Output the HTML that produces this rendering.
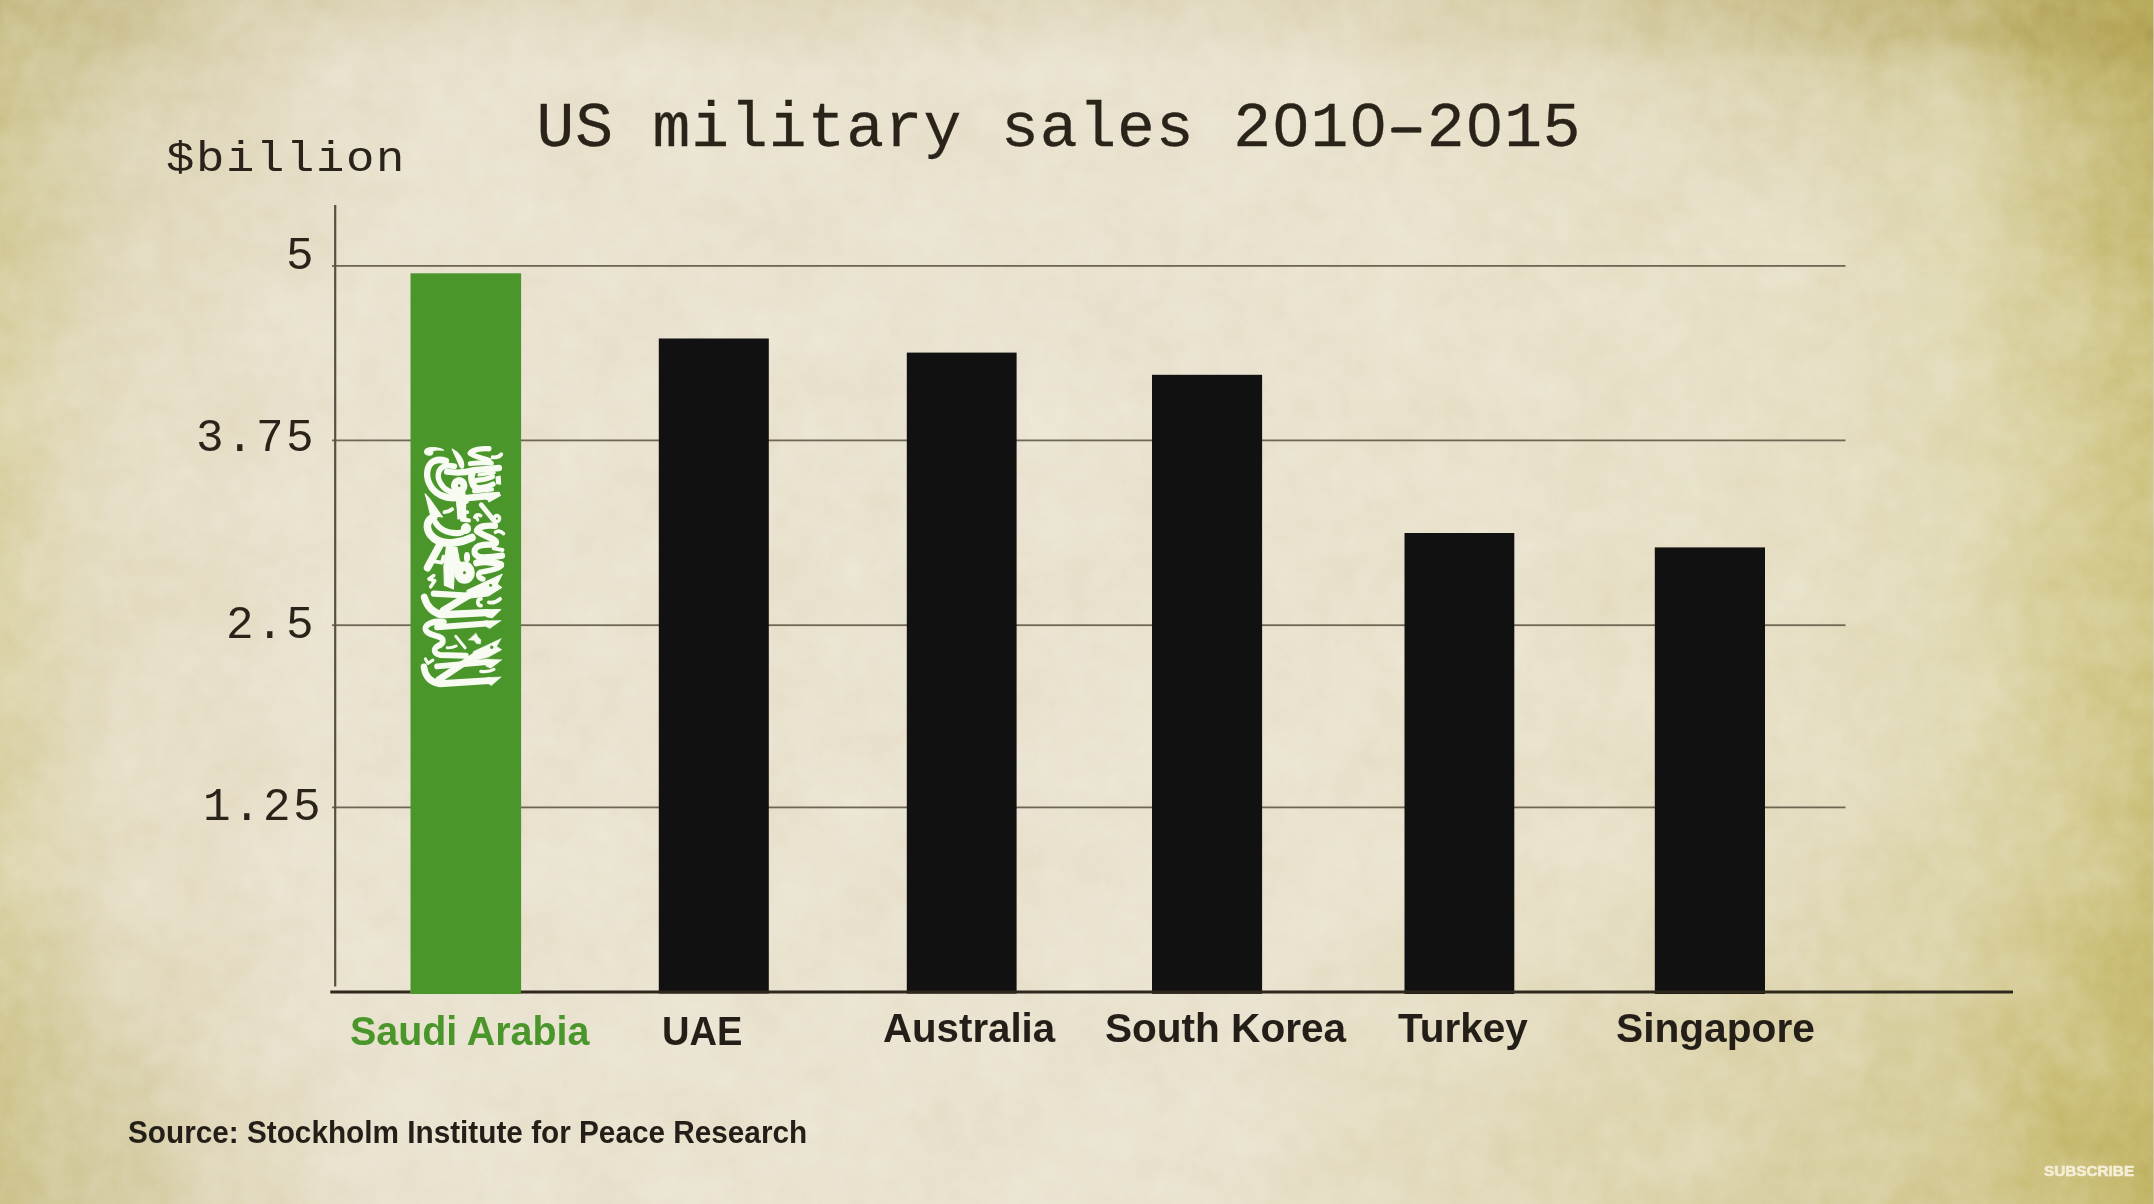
<!DOCTYPE html>
<html lang="en">
<head>
<meta charset="utf-8">
<title>US military sales 2010-2015</title>
<style>
  html, body { margin: 0; padding: 0; }
  body {
    width: 2154px; height: 1204px; overflow: hidden; position: relative;
    background-color: #ebe3cf;
    font-family: "Liberation Sans", sans-serif;
  }
  #bg {
    position: absolute; left: 0; top: 0; width: 2154px; height: 1204px;
    background:
      radial-gradient(ellipse 1000px 450px at 2154px 1204px, rgba(170,150,40,0.25), rgba(170,150,40,0.25) 20%, rgba(170,150,40,0) 100%),
      radial-gradient(ellipse 480px 400px at 0px 0px, rgba(160,145,60,0.33), rgba(160,145,60,0.10) 50%, rgba(160,145,60,0) 100%),
      radial-gradient(ellipse 380px 330px at 0px 1204px, rgba(165,150,60,0.30), rgba(165,150,60,0) 100%),
      linear-gradient(to bottom, rgba(175,160,90,0.16) 0px, rgba(175,160,90,0) 70px),
      linear-gradient(to right, #dcd3a8 0px, #e0d8b5 50px, #e5ddc3 110px, #e8e0ca 220px, #eae3d0 330px, #eae3d0 1200px, #e9e2cb 1550px, #e7e0c6 1800px, #e2dbb7 1950px, #dad19e 2050px, #cfc584 2154px);
  }
  #tr {
    position: absolute; left: 1350px; top: 0; width: 804px; height: 270px;
    background: linear-gradient(to right, rgba(155,135,35,0) 0px, rgba(155,135,35,0.08) 150px, rgba(155,135,35,0.13) 250px, rgba(155,135,35,0.20) 350px, rgba(155,135,35,0.26) 450px, rgba(155,135,35,0.33) 530px, rgba(155,135,35,0.34) 600px, rgba(155,135,35,0.30) 730px, rgba(155,135,35,0.30) 804px);
    -webkit-mask-image: linear-gradient(to bottom, rgba(0,0,0,1) 0px, rgba(0,0,0,1) 35px, rgba(0,0,0,0.6) 60px, rgba(0,0,0,0.3) 110px, rgba(0,0,0,0.12) 180px, rgba(0,0,0,0) 260px);
    mask-image: linear-gradient(to bottom, rgba(0,0,0,1) 0px, rgba(0,0,0,1) 35px, rgba(0,0,0,0.6) 60px, rgba(0,0,0,0.3) 110px, rgba(0,0,0,0.12) 180px, rgba(0,0,0,0) 260px);
  }
  #tr2 {
    position: absolute; left: 1980px; top: 0; width: 174px; height: 460px;
    background: linear-gradient(to right, rgba(150,130,35,0) 0px, rgba(150,130,35,0.12) 100px, rgba(150,130,35,0.20) 174px);
    -webkit-mask-image: linear-gradient(to bottom, rgba(0,0,0,1) 0px, rgba(0,0,0,1) 120px, rgba(0,0,0,0.7) 180px, rgba(0,0,0,0.25) 300px, rgba(0,0,0,0) 450px);
    mask-image: linear-gradient(to bottom, rgba(0,0,0,1) 0px, rgba(0,0,0,1) 120px, rgba(0,0,0,0.7) 180px, rgba(0,0,0,0.25) 300px, rgba(0,0,0,0) 450px);
  }
  #chart { position: absolute; left: 0; top: 0; }
  .t { position: absolute; white-space: nowrap; line-height: 1; color: #231e17; }
  .mono { color: #2a2319; }
  .mono { font-family: "Liberation Mono", monospace; }
  .lbl { font-weight: bold; font-size: 41px; transform-origin: left top; }
  .sx { transform-origin: left top; }
  .tick { font-size: 46px; letter-spacing: 2.4px; }
</style>
</head>
<body>
<div id="bg"></div>
<div id="tr"></div>
<div id="tr2"></div>
<div style="position:absolute; left:2153px; top:0; width:1px; height:1204px; background:rgba(214,208,190,0.75);"></div>
<svg id="noise" width="2154" height="1204" viewBox="0 0 2154 1204" style="position:absolute;left:0;top:0;mix-blend-mode:overlay;opacity:0.11;">
  <filter id="paper" x="0" y="0" width="100%" height="100%" color-interpolation-filters="sRGB">
    <feTurbulence type="fractalNoise" baseFrequency="0.011" numOctaves="5" seed="11" result="n"/>
    <feColorMatrix type="matrix" values="1.4 0 0 0 -0.2  1.4 0 0 0 -0.2  1.4 0 0 0 -0.2  0 0 0 0 1"/>
  </filter>
  <rect width="2154" height="1204" filter="url(#paper)"/>
</svg>
<svg id="noise2" width="2154" height="1204" viewBox="0 0 2154 1204" style="position:absolute;left:0;top:0;mix-blend-mode:overlay;opacity:0.07;">
  <filter id="grain" x="0" y="0" width="100%" height="100%" color-interpolation-filters="sRGB">
    <feTurbulence type="fractalNoise" baseFrequency="0.045" numOctaves="4" seed="3" result="n"/>
    <feColorMatrix type="matrix" values="1.6 0 0 0 -0.3  1.6 0 0 0 -0.3  1.6 0 0 0 -0.3  0 0 0 0 1"/>
  </filter>
  <rect width="2154" height="1204" filter="url(#grain)"/>
</svg>

<svg id="chart" width="2154" height="1204" viewBox="0 0 2154 1204">
  <!-- gridlines -->
  <g fill="#6f6753">
    <rect x="332" y="265" width="1513.5" height="1.8"/>
    <rect x="332" y="439.5" width="1513.5" height="1.8"/>
    <rect x="332" y="624.3" width="1513.5" height="1.8"/>
    <rect x="332" y="806.5" width="1513.5" height="1.8"/>
  </g>
  <!-- y axis -->
  <rect x="334.1" y="205" width="2.2" height="781.5" fill="#574f40"/>
  <!-- bars -->
  <rect x="410.5" y="273.3" width="110.6" height="720.7" fill="#4a962b"/>
  <g fill="#111111">
    <rect x="658.8" y="338.5" width="110" height="655"/>
    <rect x="906.8" y="352.6" width="109.8" height="641"/>
    <rect x="1152" y="374.8" width="110.1" height="619"/>
    <rect x="1404.5" y="533" width="109.8" height="461"/>
    <rect x="1654.8" y="547.4" width="110.2" height="446.6"/>
  </g>

  <!-- calligraphy on green bar -->
  <g id="callig" transform="translate(462.6,446.5) scale(0.93,0.995) translate(-462.5,-447)" fill="none" stroke="#f7fbf1" stroke-linecap="round" stroke-linejoin="round">
    <g transform="translate(410,440) scale(0.05397)">
      <path fill="#f7fbf1" stroke="#f7fbf1" stroke-width="22" d="M215,215 C240,130 480,130 595,200 C500,185 420,190 375,215 C395,260 360,300 300,290 C240,280 205,255 215,215Z"/>
      <path fill="#f7fbf1" stroke="#f7fbf1" stroke-width="22" d="M765,178 C880,230 1020,380 990,515 C975,545 930,535 915,500 C880,400 800,260 765,178Z"/>
      <path stroke-width="100" d="M1500,172 C1350,160 1180,190 1120,255 C1200,320 1400,350 1500,390"/>
      <path stroke-width="91" d="M1120,450 Q1350,420 1550,440"/>
      <path stroke-width="117" d="M660,600 Q950,640 1200,570 L1700,530"/>
      <path stroke-width="67" d="M1300,655 L1600,620"/>
      <path stroke-width="138" d="M1170,600 C1130,700 1150,820 1230,900"/>
      <path stroke-width="96" d="M1250,760 Q1450,740 1570,690"/>
      <path stroke-width="102" d="M1240,900 Q1450,900 1580,830"/>
      <path stroke-width="79" d="M1200,965 L1560,930"/>
      <path fill="#f7fbf1" stroke="#f7fbf1" stroke-width="22" d="M1640,700 L1720,680 L1730,830 L1650,820Z"/>
      <path stroke-width="73" d="M1570,330 Q1690,345 1745,275"/>
      <path stroke-width="126" d="M640,400 C470,350 330,400 280,540 C230,720 320,930 520,1030 C620,1075 720,1090 810,1090"/>
      <path stroke-width="108" d="M810,500 C650,460 540,500 500,600 C450,740 560,900 700,960 C740,980 780,990 810,1000"/>
      <circle cx="905" cy="860" r="95" stroke-width="138"/>
      <path stroke-width="197" stroke-linecap="butt" d="M930,980 L950,1260"/>
      <path stroke-width="126" d="M1000,1095 L1480,1050"/>
      <path fill="#f7fbf1" stroke="#f7fbf1" stroke-width="22" d="M1440,1000 L1700,985 L1725,1040 L1500,1160 L1470,1110 L1440,1110Z"/>
    </g>
    <g transform="translate(410,500) scale(0.05397)">
      <path fill="#f7fbf1" stroke="#f7fbf1" stroke-width="22" d="M225,-100 L322,0 L570,330 L335,300 L258,0Z"/>
      <path stroke-width="185" stroke-linecap="butt" d="M935,-50 L960,370"/>
      <path stroke-width="67" d="M960,70 L1060,50 M980,250 L1070,240"/>
      <path stroke-width="79" d="M960,380 L1100,395"/>
      <path stroke-width="73" d="M610,240 Q700,235 765,185"/>
      <path stroke-width="150" d="M400,330 C260,380 230,520 330,660 C430,780 600,830 800,810 C950,795 1080,750 1160,715"/>
      <path stroke-width="114" d="M430,430 C500,540 650,630 850,630 C950,630 1000,600 1030,560"/>
      <circle cx="1040" cy="545" r="90" fill="#f7fbf1" stroke="#f7fbf1" stroke-width="22"/>
      <path stroke-width="96" d="M1345,105 L1590,390"/>
      <circle cx="1655" cy="360" r="55" stroke-width="67"/>
      <path stroke-width="67" d="M1215,335 Q1250,270 1335,305"/>
      <path stroke-width="61" d="M1240,330 L1275,385"/>
      <path stroke-width="120" d="M1620,495 C1400,480 1270,520 1255,590 C1350,660 1500,700 1590,750 C1680,800 1640,840 1560,845 C1400,840 1250,860 1215,940 C1190,1020 1250,1080 1400,1085 C1550,1085 1650,1070 1760,1050"/>
      <path stroke-width="73" d="M1590,915 L1770,945"/>
      <path stroke-width="67" d="M1625,615 Q1700,560 1790,640"/>
      <path stroke-width="150" d="M520,850 L275,1270"/>
      <path fill="#f7fbf1" stroke="#f7fbf1" stroke-width="22" d="M650,880 L860,900 L910,1150 L810,1300 L790,1670 L610,1600 L600,1250 L640,950Z"/>
      <path stroke-width="70" d="M350,1149 L560,1179 L590,1069"/>
      <ellipse cx="1060" cy="1080" rx="50" ry="85" fill="#f7fbf1" stroke="#f7fbf1" stroke-width="22"/>
    </g>
    <g transform="translate(410,560) scale(0.05397)">
      <circle cx="1010" cy="255" r="118" stroke-width="179"/>
      <path stroke-width="150" d="M800,90 L900,110"/>
      <path stroke-width="67" d="M400,310 L300,375 L420,405 L335,520"/>
      <path stroke-width="132" d="M1250,75 Q1450,15 1735,105"/>
      <path stroke-width="102" d="M1740,130 C1620,230 1400,220 1320,250 C1260,300 1300,360 1380,375"/>
      <path stroke-width="114" d="M395,645 L1050,680"/>
      <path stroke-width="138" d="M590,960 L1300,560"/>
      <path fill="#f7fbf1" stroke="#f7fbf1" stroke-width="22" d="M1060,590 L1760,285 L1660,470 L1750,530 L1480,690 L1080,730Z"/>
      <circle cx="1530" cy="490" r="30" fill="#4a962b" stroke="none"/>
      <path stroke-width="73" d="M1340,740 C1260,740 1250,860 1340,870"/>
      <path stroke-width="73" d="M1495,810 Q1620,830 1720,745"/>
      <path stroke-width="138" d="M210,715 C260,880 380,1000 560,1040 L1450,1000"/>
      <path fill="#f7fbf1" stroke="#f7fbf1" stroke-width="22" d="M1430,950 L1730,945 L1560,1095 L1450,1075Z"/>
    </g>
    <g transform="translate(410,620) scale(0.06231)">
      <path stroke-width="97" d="M520,55 C350,30 210,80 200,160 C210,240 330,260 430,290 C540,330 520,400 420,440 C340,480 330,560 450,585 L900,600"/>
      <path stroke-width="97" d="M400,140 L1260,80"/>
      <path fill="#f7fbf1" stroke="#f7fbf1" stroke-width="8" d="M1230,35 L1510,30 L1310,160 L1250,130Z"/>
      <path stroke-width="51" d="M725,285 L885,470"/>
      <path stroke-width="46" d="M575,470 Q660,475 735,440"/>
      <path fill="#f7fbf1" stroke="#f7fbf1" stroke-width="8" d="M1075,235 L1110,300 L1160,340 L1150,410 L1080,400 L1040,350 L945,345Z"/>
      <path stroke-width="112" d="M430,985 L1150,540"/>
      <path fill="#f7fbf1" stroke="#f7fbf1" stroke-width="8" d="M1030,530 L1510,320 L1430,450 L1520,500 L1290,620 L1000,690Z"/>
      <circle cx="1345" cy="460" r="28" fill="#4a962b" stroke="none"/>
      <path stroke-width="97" d="M400,770 L1260,700"/>
      <path fill="#f7fbf1" stroke="#f7fbf1" stroke-width="8" d="M1230,650 L1520,665 L1330,800 L1250,770Z"/>
      <path stroke-width="51" d="M1155,850 Q1300,865 1385,820"/>
      <path stroke-width="51" d="M200,650 L245,720 L330,670"/>
      <path stroke-width="112" d="M175,780 C200,950 300,1030 450,1050 L1300,1000"/>
      <path fill="#f7fbf1" stroke="#f7fbf1" stroke-width="8" d="M1270,950 L1510,940 L1340,1080 L1290,1050Z"/>
    </g>
  </g>
  <!-- baseline -->
  <rect x="330.3" y="990.5" width="80.2" height="3" fill="#2e281c"/>
  <rect x="521" y="990.5" width="1492" height="3" fill="#2e281c"/>
</svg>

<div class="t mono" id="title" style="left:536.5px; top:97.7px; font-size:63px; letter-spacing:0.9px; -webkit-text-stroke:0.3px #2a2319;">US military sales 2010–2015</div>
<svg id="fix" width="2154" height="1204" viewBox="0 0 2154 1204" style="position:absolute;left:0;top:0;">
  <rect x="1285.6" y="119.1" width="9.8" height="10.8" rx="2" fill="#ebe5d3"/>
  <rect x="1363.6" y="119.1" width="9.8" height="10.8" rx="2" fill="#e8e1cb"/>
  <rect x="1479.6" y="119.1" width="9.8" height="10.8" rx="2" fill="#eae3ce"/>
  <rect x="1391.3" y="127.7" width="30" height="4.9" rx="0.8" fill="#2a2319"/>
</svg>
<div class="t mono sx" id="unit" style="left:166px; top:138px; font-size:43px; letter-spacing:1.47px; transform:scaleX(1.1);">$billion</div>

<div class="t mono tick" id="t5"   style="left:286px; top:233.5px;">5</div>
<div class="t mono tick" id="t375" style="left:196px; top:415.5px;">3.75</div>
<div class="t mono tick" id="t25"  style="left:226px; top:602.5px;">2.5</div>
<div class="t mono tick" id="t125" style="left:203px; top:785px;">1.25</div>

<div class="t lbl" id="l1" style="left:350.2px; top:1010.7px; color:#4a962b; transform:scaleX(0.961);">Saudi Arabia</div>
<div class="t lbl" id="l2" style="left:662.2px; top:1010.7px; transform:scaleX(0.929);">UAE</div>
<div class="t lbl" id="l3" style="left:882.8px; top:1008.2px; transform:scaleX(0.981);">Australia</div>
<div class="t lbl" id="l4" style="left:1104.9px; top:1008.2px; transform:scaleX(0.989);">South Korea</div>
<div class="t lbl" id="l5" style="left:1397.8px; top:1008.2px; transform:scaleX(0.988);">Turkey</div>
<div class="t lbl" id="l6" style="left:1616.1px; top:1008.2px; transform:scaleX(0.992);">Singapore</div>

<div class="t" id="src" style="left:127.5px; top:1116.8px; font-size:31.5px; font-weight:bold; transform-origin:left top; transform:scaleX(0.944);">Source: Stockholm Institute for Peace Research</div>
<div class="t" id="sub" style="left:2044.2px; top:1162.7px; font-size:15px; font-weight:bold; color:#f5eed6; -webkit-text-stroke:0.6px #f5eed6; transform-origin:left top; transform:scaleX(1.02);">SUBSCRIBE</div>
</body>
</html>
